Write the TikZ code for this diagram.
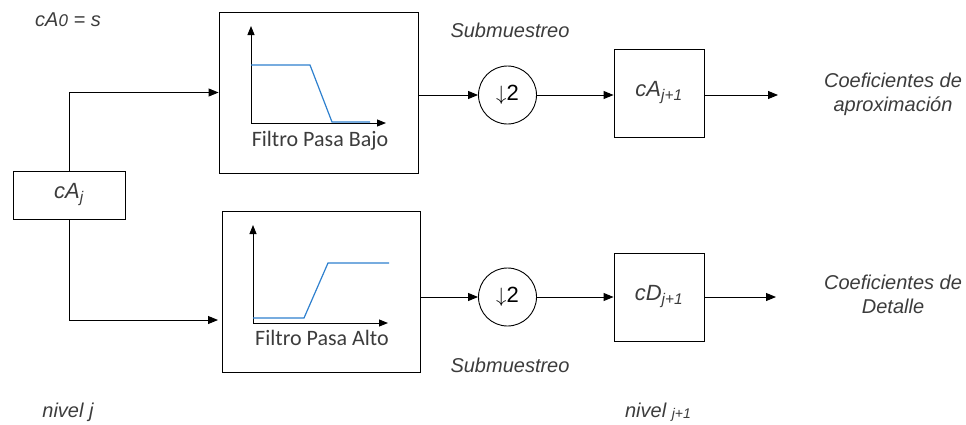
\documentclass[tikz,border=0pt]{standalone}
\usepackage{fontspec}
\setmainfont{Liberation Sans}
\newfontfamily\filtfont{Carlito}
\usetikzlibrary{arrows.meta,calc}
\definecolor{curveblue}{RGB}{46,128,206}
\definecolor{txtgray}{RGB}{60,60,60}
\begin{document}
\begin{tikzpicture}[x=1pt,y=-1pt,
  line width=0.9pt,
  arr/.style={-{Triangle[length=10pt,width=8pt]}},
  axarr/.style={-{Triangle[length=9pt,width=7pt]}},
  box/.style={draw,rectangle,inner sep=0pt},
  circ/.style={draw,circle,minimum size=58pt,inner sep=0pt,font=\fontsize{22}{24}\selectfont},
  lbl/.style={font=\fontsize{20}{24}\selectfont\itshape,text=txtgray,align=center},
  boxlbl/.style={font=\fontsize{22}{24}\selectfont\itshape,text=txtgray},
  filt/.style={font=\fontsize{22}{24}\selectfont\filtfont,text=txtgray},
  curve/.style={curveblue,line width=1.2pt}
]
\useasboundingbox (0,0) rectangle (966,424);

% main blocks
\node[box,minimum width=112pt,minimum height=48pt,boxlbl] (caj) at (69,195) {cA\textsubscript{j}};
\node[box,minimum width=199pt,minimum height=161pt] (lp) at (318.5,92.5) {};
\node[box,minimum width=198pt,minimum height=161pt] (hp) at (321,291.5) {};
\node[circ] (d1) at (507.5,95) {$\downarrow$2};
\node[circ] (d2) at (507.5,297) {$\downarrow$2};
\node[box,minimum width=90pt,minimum height=88pt,boxlbl] (ca) at (659,93) {cA\textsubscript{j+1}};
\node[box,minimum width=90pt,minimum height=88pt,boxlbl] (cd) at (659,297) {cD\textsubscript{j+1}};

% low-pass graph
\coordinate (lpo) at (251,123);
\coordinate (lpy) at (251,26);
\coordinate (lpx) at (386,123);
\draw[axarr] (lpo) -- (lpy);
\draw[axarr] (lpo) -- (lpx);
\draw[curve] (251,65) -- (310,65) -- (332,122) -- (370,122);
\node[filt] (lpt) at (320,141) {Filtro Pasa Bajo};

% high-pass graph
\coordinate (hpo) at (253,323);
\coordinate (hpy) at (253,225);
\coordinate (hpx) at (388,323);
\draw[axarr] (hpo) -- (hpy);
\draw[axarr] (hpo) -- (hpx);
\draw[curve] (253,318) -- (304,318) -- (328,263) -- (389,263);
\node[filt] (hpt) at (322,338) {Filtro Pasa Alto};

% connectors
\draw[arr] (caj.north) |- (lp.west);
\coordinate (hpin) at (218,320);
\draw[arr] (caj.south) |- (hpin);
\draw[arr] (lp.east |- d1.west) -- (d1.west);
\draw[arr] (hp.east |- d2.west) -- (d2.west);
\draw[arr] (d1.east) -- (d1.east -| ca.west);
\draw[arr] (d2.east) -- (d2.east -| cd.west);
\coordinate (outa) at (778,95);
\coordinate (outd) at (776,297);
\draw[arr] (ca.east |- outa) -- (outa);
\draw[arr] (cd.east |- outd) -- (outd);

% labels
\node[lbl] (s0) at (68,20) {cA{\fontsize{17}{20}\selectfont 0} = s};
\node[lbl] (sub1) at (510,30) {Submuestreo};
\node[lbl] (sub2) at (510,365) {Submuestreo};
\node[lbl] (coa) at (893,94) {Coeficientes de\\aproximación};
\node[lbl] (cod) at (893,294) {Coeficientes de\\Detalle};
\node[lbl] (nj) at (68,412) {nivel j};
\node[lbl] (nj1) at (658,412) {nivel \raisebox{-1pt}{\fontsize{14}{16}\selectfont j+1}};
\end{tikzpicture}
\end{document}
